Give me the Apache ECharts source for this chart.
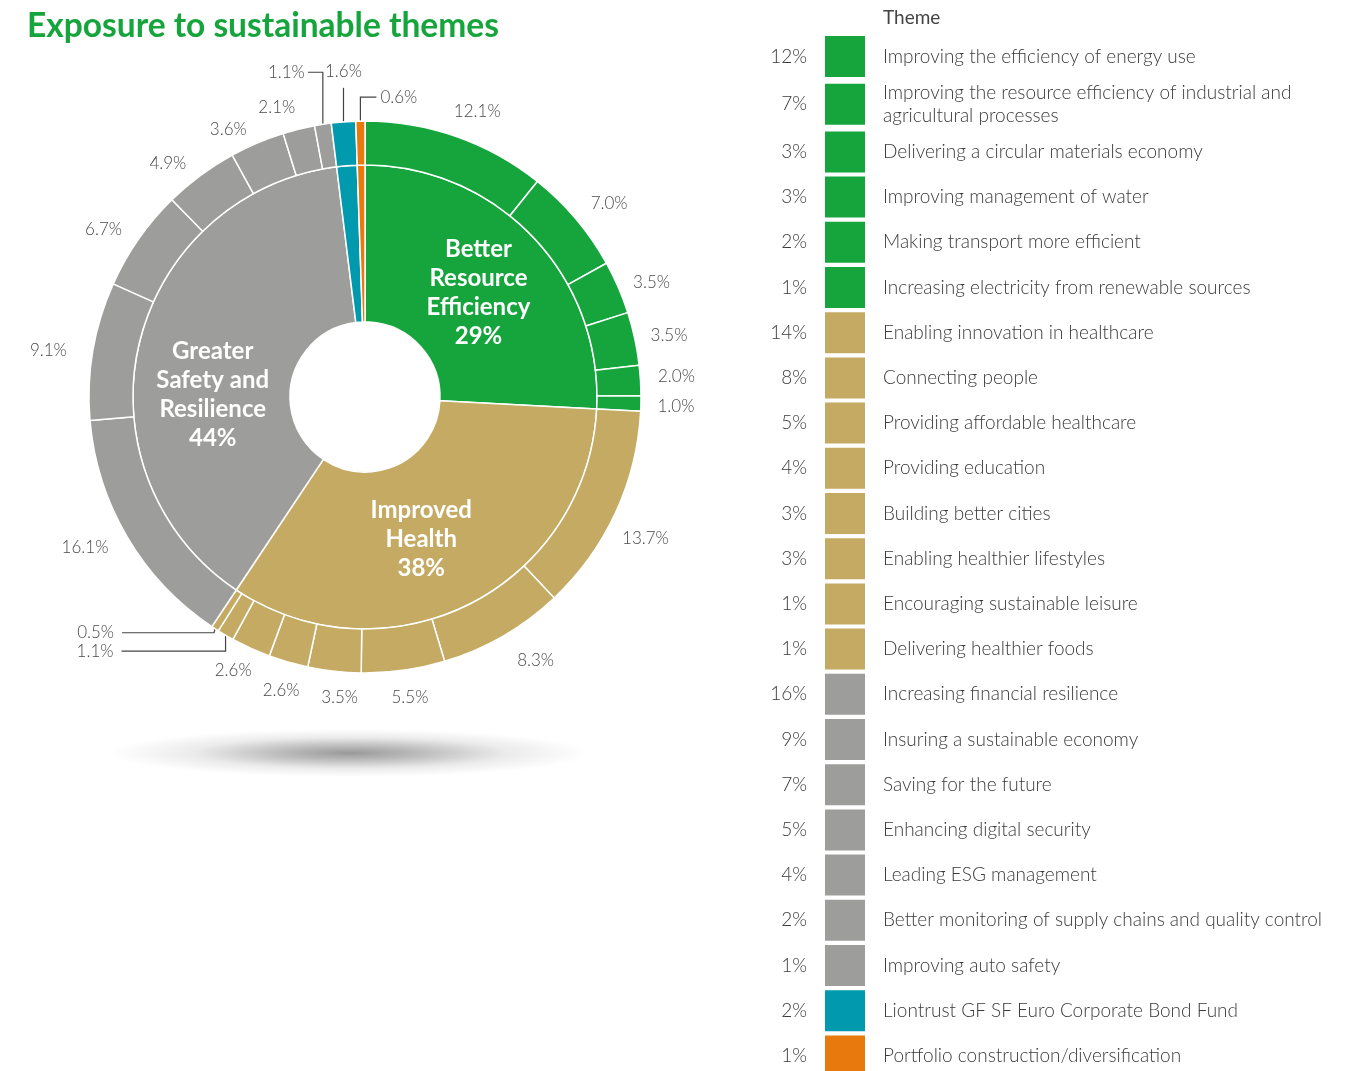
<!DOCTYPE html>
<html>
<head>
<meta charset="utf-8">
<script src="https://cdn.jsdelivr.net/npm/echarts@6/dist/echarts.min.js"></script>
<style>
html,body{margin:0;padding:0;background:#fff;}
#chart{width:1360px;height:1071px;}
</style>
</head>
<body>
<div id="chart"></div>
<script>
// ---------- DATA ----------
const THEMES = [
  'Improving the efficiency of energy use',
  'Improving the resource efficiency of industrial and\nagricultural processes',
  'Delivering a circular materials economy',
  'Improving management of water',
  'Making transport more efficient',
  'Increasing electricity from renewable sources',
  'Enabling innovation in healthcare',
  'Connecting people',
  'Providing affordable healthcare',
  'Providing education',
  'Building better cities',
  'Enabling healthier lifestyles',
  'Encouraging sustainable leisure',
  'Delivering healthier foods',
  'Increasing financial resilience',
  'Insuring a sustainable economy',
  'Saving for the future',
  'Enhancing digital security',
  'Leading ESG management',
  'Better monitoring of supply chains and quality control',
  'Improving auto safety',
  'Liontrust GF SF Euro Corporate Bond Fund',
  'Portfolio construction/diversification'
];
// outer ring values (as labelled on the chart, %)
const THEME_VALUES = [12.1, 7.0, 3.5, 3.5, 2.0, 1.0,
                      13.7, 8.3, 5.5, 3.5, 2.6, 2.6, 1.1, 0.5,
                      16.1, 9.1, 6.7, 4.9, 3.6, 2.1, 1.1,
                      1.6, 0.6];
// rounded percentages shown in the table
const TABLE_PCT = [12, 7, 3, 3, 2, 1,
                   14, 8, 5, 4, 3, 3, 1, 1,
                   16, 9, 7, 5, 4, 2, 1,
                   2, 1];
// group of each theme
const THEME_GROUP = [0,0,0,0,0,0, 1,1,1,1,1,1,1,1, 2,2,2,2,2,2,2, 3, 4];
const GROUPS = ['Better\nResource\nEfficiency', 'Improved\nHealth', 'Greater\nSafety and\nResilience',
                'Liontrust GF SF Euro Corporate Bond Fund', 'Portfolio construction/diversification'];
const GROUP_LABELLED = [true, true, true, false, false];

// ---------- STYLE / LAYOUT ----------
const GROUP_COLORS = ['#16a53c', '#c4aa62', '#9d9d9c', '#0099ae', '#e8790c'];
const FONT = 'Lato, "Open Sans", sans-serif';
const CX = 365, CY = 397, R_IN = 75, R_MID = 232, R_OUT = 276, LABEL_R = 309;

// leader-line labels: offsets relative to the sector edge point
const LEADERS = {
  12: {pts: [[0, 16], [-104, 16]], text: [-112, 16], align: 'right'},
  13: {pts: [[-1, 4], [-93, 4]], text: [-101, 4], align: 'right'},
  20: {pts: [[0, -52], [-15, -52]], text: [-18, -52], align: 'right'},
  21: {pts: [[0, -34]], text: [0, -50], align: 'center'},
  22: {pts: [[0, -24], [16, -24]], text: [20, -24], align: 'left'}
};
// small hand nudges of the value labels (px)
const LABEL_NUDGE = {
  0: [10, 6], 1: [8, 6], 2: [3, 8], 3: [2, 4], 4: [3, -2], 5: [2, 2],
  6: [0, 12], 7: [16, -4], 8: [2, -5], 9: [9, -7], 10: [2, -3], 11: [-4, -8],
  14: [-14, -7], 15: [-12, 5], 16: [-8, 9], 17: [-13, 15], 18: [-16, 17], 19: [-14, 10]
};

// group sums for the inner ring
const groupSums = GROUPS.map((g, gi) =>
  THEME_VALUES.reduce((s, v, i) => s + (THEME_GROUP[i] === gi ? v : 0), 0));

const innerData = GROUPS.map((name, gi) => ({
  name: name,
  value: groupSums[gi],
  itemStyle: {color: GROUP_COLORS[gi]},
  label: {show: GROUP_LABELLED[gi]}
}));

const outerData = THEMES.map((name, i) => {
  const item = {name: name, value: THEME_VALUES[i], itemStyle: {color: GROUP_COLORS[THEME_GROUP[i]]}};
  if (LEADERS[i]) item.labelLine = {lineStyle: {opacity: 1, color: '#444', width: 1.2}};
  return item;
});

// the two-line theme gets a taller row; the percentage column mirrors that row height
const legendNames = THEMES.map(n => n.indexOf('\n') >= 0
  ? {name: n, textStyle: {lineHeight: 23}} : {name: n});
const legendPctNames = THEMES.map(n => n.indexOf('\n') >= 0
  ? {name: n, textStyle: {lineHeight: 46}} : {name: n});

// fallback angle computation from data (clockwise from 12 o'clock)
const total = THEME_VALUES.reduce((a, b) => a + b, 0);
function edgePoint(i) {
  let cum = 0;
  for (let k = 0; k < i; k++) cum += THEME_VALUES[k];
  const a = (cum + THEME_VALUES[i] / 2) / total * Math.PI * 2;
  return [CX + R_OUT * Math.sin(a), CY - R_OUT * Math.cos(a)];
}

const chart = echarts.init(document.getElementById('chart'), null, {renderer: 'canvas'});
chart.setOption({
  backgroundColor: '#ffffff',
  animation: false,
  title: [
    {text: 'Exposure to sustainable themes', left: 22, top: 4,
     textStyle: {fontFamily: FONT, fontSize: 33.5, fontWeight: 'bold', color: '#16a53c'}},
    {text: 'Theme', left: 878, top: 3,
     textStyle: {fontFamily: FONT, fontSize: 19, fontWeight: 'normal', color: '#444'}}
  ],
  legend: [
    {
      data: legendNames, orient: 'vertical', left: 820, top: 31, height: 1100,
      icon: 'rect', itemWidth: 40, itemHeight: 41, itemGap: 4.2,
      selectedMode: false, itemStyle: {borderWidth: 0},
      textStyle: {fontFamily: FONT, fontSize: 19, fontWeight: 300, color: '#3a3a3a',
                  padding: [0, 0, 0, 13]}
    },
    {
      data: legendPctNames, orient: 'vertical', right: 490, top: 31, height: 1100, align: 'right',
      icon: 'rect', itemWidth: 40, itemHeight: 41, itemGap: 4.2,
      selectedMode: false, itemStyle: {borderWidth: 0, opacity: 0},
      formatter: name => TABLE_PCT[THEMES.indexOf(name)] + '%',
      textStyle: {fontFamily: FONT, fontSize: 19, fontWeight: 300, color: '#3a3a3a',
                  padding: [0, 13, 0, 0]}
    }
  ],
  graphic: [{
    type: 'circle', x: 350, y: 753, scaleY: 0.1, z: -10,
    shape: {cx: 0, cy: 0, r: 240},
    style: {fill: new echarts.graphic.RadialGradient(0.5, 0.5, 0.5, [
      {offset: 0, color: 'rgba(0,0,0,0.40)'},
      {offset: 0.3, color: 'rgba(0,0,0,0.26)'},
      {offset: 0.65, color: 'rgba(0,0,0,0.08)'},
      {offset: 1, color: 'rgba(0,0,0,0)'}
    ])}
  }],
  series: [
    {
      type: 'pie', name: 'Groups',
      center: [CX, CY], radius: [R_IN, R_MID],
      startAngle: 90, clockwise: true, avoidLabelOverlap: false,
      itemStyle: {borderColor: '#ffffff', borderWidth: 1.5},
      label: {
        position: 'inside', color: '#ffffff', fontFamily: FONT, fontWeight: 'bold',
        fontSize: 24, lineHeight: 29,
        formatter: p => p.name + '\n' + Math.round(p.value) + '%'
      },
      labelLayout: p => (p.dataIndex === 2 ? {dy: 34} : p.dataIndex === 1 ? {dx: -14, dy: 2} : {dy: 4}),
      emphasis: {disabled: true},
      data: innerData
    },
    {
      type: 'pie', name: 'Themes',
      center: [CX, CY], radius: [R_MID, R_OUT],
      startAngle: 90, clockwise: true, avoidLabelOverlap: false,
      itemStyle: {borderColor: '#ffffff', borderWidth: 1.5},
      label: {
        position: 'outside', color: '#4a4a4a', fontFamily: FONT, fontWeight: 300, fontSize: 17,
        formatter: p => p.value.toFixed(1) + '%'
      },
      labelLine: {show: true, length: 10, length2: 0, lineStyle: {opacity: 0}},
      labelLayout: function (p) {
        const p0 = (p.labelLinePoints && p.labelLinePoints[0]) || edgePoint(p.dataIndex);
        const L = LEADERS[p.dataIndex];
        if (L) {
          const pts = [[p0[0], p0[1]]].concat(L.pts.map(d => [p0[0] + d[0], p0[1] + d[1]]));
          return {x: p0[0] + L.text[0], y: p0[1] + L.text[1], align: L.align,
                  verticalAlign: 'middle', labelLinePoints: pts};
        }
        const dx = p0[0] - CX, dy = p0[1] - CY, len = Math.hypot(dx, dy);
        const n = LABEL_NUDGE[p.dataIndex] || [0, 0];
        return {x: CX + dx / len * LABEL_R + n[0], y: CY + dy / len * LABEL_R + n[1],
                align: 'center', verticalAlign: 'middle'};
      },
      emphasis: {disabled: true},
      data: outerData
    }
  ]
});
</script>
</body>
</html>
